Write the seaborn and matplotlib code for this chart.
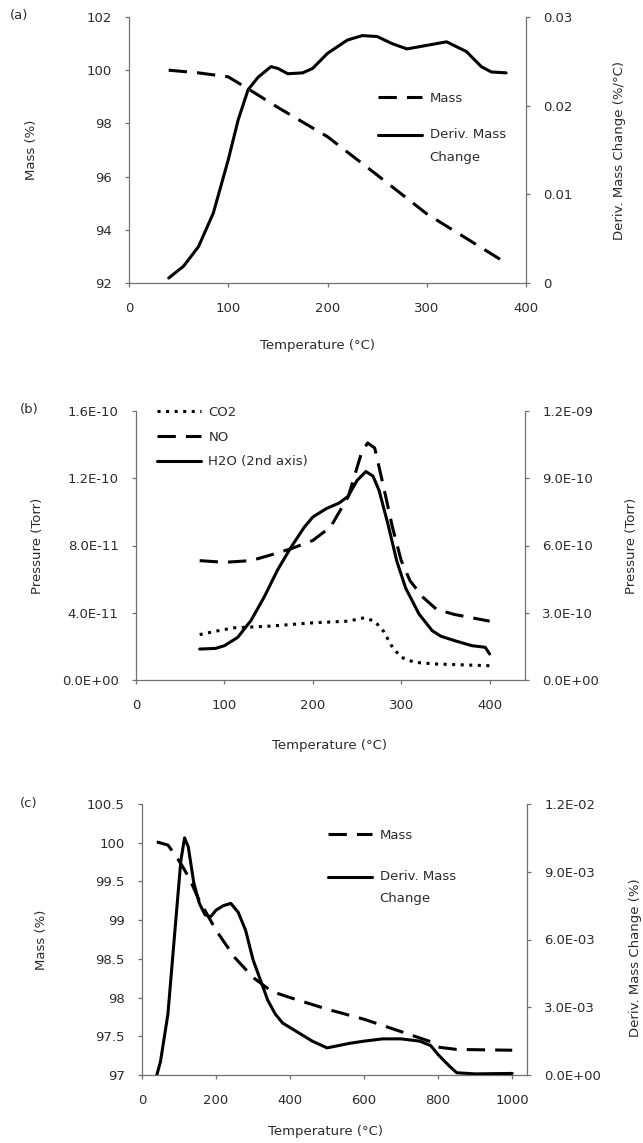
import matplotlib
matplotlib.use("Agg")
import numpy as np
import matplotlib.pyplot as plt
import seaborn as sns
from matplotlib.ticker import FuncFormatter, MultipleLocator
from matplotlib.legend_handler import HandlerLine2D

sns.set_style("ticks")
plt.rcParams["font.family"] = ["DejaVu Sans"]
FS = 9.5
plt.rcParams["font.size"] = FS

# ---- (a) TGA, low temperature range ----
a_mass_T = [40, 70, 100, 120, 150, 200, 250, 300, 380]
a_mass = [100.0, 99.9, 99.75, 99.3, 98.6, 97.5, 96.06, 94.6, 92.75]
a_deriv_T = [40, 55, 70, 85, 100, 110, 120, 130, 143, 150, 160, 175, 185, 200,
             220, 235, 250, 265, 280, 300, 320, 340, 355, 365, 380]
a_deriv = [0.00056, 0.0019, 0.0041, 0.0079, 0.0139, 0.0184, 0.0218, 0.0232,
           0.0244, 0.0242, 0.0236, 0.0237, 0.0242, 0.0259, 0.0274, 0.0279,
           0.0278, 0.0270, 0.0264, 0.0268, 0.0272, 0.0261, 0.0244, 0.0238, 0.0237]

# ---- (b) evolved gas pressures ----
b_no_T = [72, 100, 130, 150, 175, 200, 220, 240, 255, 262, 270, 280, 290, 300,
          310, 325, 340, 360, 380, 400]
b_no = [7.1e-11, 7.0e-11, 7.1e-11, 7.4e-11, 7.8e-11, 8.3e-11, 9.1e-11, 1.09e-10,
        1.35e-10, 1.41e-10, 1.38e-10, 1.15e-10, 9.1e-11, 7.1e-11, 5.9e-11,
        4.9e-11, 4.2e-11, 3.9e-11, 3.7e-11, 3.5e-11]
b_co2_T = [72, 90, 110, 150, 200, 240, 258, 270, 280, 290, 300, 315, 340, 370, 400]
b_co2 = [2.7e-11, 2.9e-11, 3.1e-11, 3.2e-11, 3.4e-11, 3.5e-11, 3.7e-11, 3.5e-11,
         2.9e-11, 1.95e-11, 1.35e-11, 1.05e-11, 9.5e-12, 9.0e-12, 8.5e-12]
b_h2o_T = [72, 90, 100, 115, 130, 145, 160, 175, 190, 200, 215, 230, 240, 250,
           260, 268, 275, 285, 295, 305, 320, 335, 345, 360, 380, 395, 400]
b_h2o = [1.38e-10, 1.41e-10, 1.53e-10, 1.9e-10, 2.65e-10, 3.7e-10, 4.9e-10,
         5.9e-10, 6.8e-10, 7.27e-10, 7.64e-10, 7.9e-10, 8.2e-10, 8.9e-10, 9.3e-10,
         9.1e-10, 8.45e-10, 6.95e-10, 5.3e-10, 4.1e-10, 2.95e-10, 2.2e-10,
         1.95e-10, 1.76e-10, 1.53e-10, 1.46e-10, 1.16e-10]

# ---- (c) TGA, full temperature range ----
c_mass_T = [40, 70, 90, 110, 130, 150, 180, 200, 250, 300, 350, 400, 500, 600,
            700, 780, 800, 850, 1000]
c_mass = [100.01, 99.97, 99.84, 99.69, 99.52, 99.30, 99.04, 98.87, 98.52, 98.26,
          98.08, 98.0, 97.85, 97.72, 97.56, 97.43, 97.36, 97.33, 97.32]
c_deriv_T = [40, 50, 70, 90, 105, 115, 125, 140, 155, 170, 185, 200, 220, 240,
             260, 280, 300, 320, 340, 360, 380, 400, 430, 460, 500, 530, 560, 600,
             650, 700, 750, 780, 800, 830, 850, 900, 1000]
c_deriv = [0.0, 0.0006, 0.0027, 0.0066, 0.0095, 0.0105, 0.0101, 0.0085, 0.0076,
           0.0071, 0.0070, 0.0073, 0.0075, 0.0076, 0.0072, 0.0064, 0.0051, 0.0042,
           0.0033, 0.0027, 0.0023, 0.0021, 0.0018, 0.0015, 0.0012, 0.0013, 0.0014,
           0.0015, 0.0016, 0.0016, 0.0015, 0.0013, 0.0009, 0.0004, 0.0001,
           0.00005, 0.00007]

W, H = 643, 1143
LW = 2.2
DASH = (0, (6, 3.3))
DOT = (0, (1, 1.8))
TXT = "#2b2b2b"
SPINE = "#707070"
PX = 72 / 100  # points per pixel at 100 dpi

fig = plt.figure(figsize=(W / 100, H / 100), dpi=100)


class FirstLineHandler(HandlerLine2D):
    """Legend line aligned with the first line of a two-line label."""

    def __init__(self, shift, **kw):
        super().__init__(**kw)
        self.shift = shift

    def create_artists(self, legend, orig_handle, xdescent, ydescent, width,
                       height, fontsize, trans):
        arts = super().create_artists(legend, orig_handle, xdescent, ydescent,
                                      width, height, fontsize, trans)
        for a in arts:
            a.set_ydata(np.asarray(a.get_ydata(), dtype=float) + self.shift)
        return arts


def make_axes(box):
    left, top, right, bottom = box
    ax = fig.add_axes([left / W, 1 - bottom / H, (right - left) / W, (bottom - top) / H])
    ax2 = ax.twinx()
    ax.patch.set_alpha(0)
    return ax, ax2


def frac(box, px, py):
    left, top, right, bottom = box
    return (px - left) / (right - left), (bottom - py) / (bottom - top)


def style_axes(ax, ax2):
    for a in (ax, ax2):
        a.spines["top"].set_visible(False)
        for s in a.spines.values():
            s.set_color(SPINE)
            s.set_linewidth(0.9)
        a.tick_params(direction="out", length=3, width=0.9, color=SPINE,
                      labelcolor=TXT, labelsize=FS)
    ax.tick_params(axis="x", pad=10.5)
    ax.tick_params(axis="y", pad=9.5)
    ax2.tick_params(axis="y", pad=9.5)
    ax.spines["right"].set_visible(False)
    ax2.spines["left"].set_visible(False)
    ax2.spines["bottom"].set_visible(False)


def place_labels(ax, ax2, box, xl, yl, yr):
    ax.xaxis.set_label_coords(*frac(box, xl[0], xl[1] - 7.5))
    ax.yaxis.set_label_coords(*frac(box, yl[0] + 7.5, yl[1]))
    ax2.yaxis.set_label_coords(*frac(box, yr[0] - 7.5, yr[1]))


def sci(v, _):
    return f"{v:.1E}"


def build_legend(ax, ax2, box, anchor_px, spacing, two_line=None):
    h1, l1 = ax.get_legend_handles_labels()
    h2, l2 = ax2.get_legend_handles_labels()
    if ax.get_legend() is not None:
        ax.get_legend().remove()
    hmap = {}
    if two_line is not None:
        for h, l in zip(h1 + h2, l1 + l2):
            if "\n" in l:
                hmap[h] = FirstLineHandler(two_line)
    fs_px = FS / PX
    leg = ax2.legend(h1 + h2, l1 + l2, loc="upper left",
                     bbox_to_anchor=frac(box, *anchor_px), frameon=False,
                     borderpad=0, borderaxespad=0,
                     handlelength=44 / fs_px, handletextpad=7.5 / fs_px,
                     labelspacing=spacing, fontsize=FS, labelcolor=TXT,
                     handler_map=hmap)
    for t in leg.get_texts():
        t.set_linespacing(1.95)
    return leg


# ----- panel (a) -----
box_a = (129, 17, 526, 283)
ax, ax2 = make_axes(box_a)
sns.lineplot(x=a_mass_T, y=a_mass, ax=ax, color="black", lw=LW, linestyle=DASH, label="Mass")
sns.lineplot(x=a_deriv_T, y=a_deriv, ax=ax2, color="black", lw=LW, label="Deriv. Mass\nChange")
ax.set_xlim(0, 400)
ax.set_ylim(92, 102)
ax2.set_ylim(0, 0.03)
ax.xaxis.set_major_locator(MultipleLocator(100))
ax.yaxis.set_major_locator(MultipleLocator(2))
ax2.yaxis.set_major_locator(MultipleLocator(0.01))
ax2.yaxis.set_major_formatter(FuncFormatter(lambda v, _: "0" if abs(v) < 1e-12 else f"{v:g}"))
style_axes(ax, ax2)
ax.set_xlabel("Temperature (°C)", color=TXT)
ax.set_ylabel("Mass (%)", color=TXT)
ax2.set_ylabel("Deriv. Mass Change (%/°C)", color=TXT)
place_labels(ax, ax2, box_a, (317, 346), (31, 150), (620, 150))
build_legend(ax, ax2, box_a, (378, 92), 1.75, two_line=11 * PX)
fig.text(19 / W, 1 - 15 / H, "(a)", fontsize=FS, color=TXT, ha="center", va="center")

# ----- panel (b) -----
box_b = (136, 411, 525, 680)
ax, ax2 = make_axes(box_b)
sns.lineplot(x=b_co2_T, y=b_co2, ax=ax, color="black", lw=LW, linestyle=DOT, label="CO2")
sns.lineplot(x=b_no_T, y=b_no, ax=ax, color="black", lw=LW, linestyle=DASH, label="NO")
sns.lineplot(x=b_h2o_T, y=b_h2o, ax=ax2, color="black", lw=LW, label="H2O (2nd axis)")
ax.set_xlim(0, 440)
ax.set_ylim(0, 1.6e-10)
ax2.set_ylim(0, 1.2e-9)
ax.xaxis.set_major_locator(MultipleLocator(100))
ax.yaxis.set_major_locator(MultipleLocator(4e-11))
ax2.yaxis.set_major_locator(MultipleLocator(3e-10))
ax.yaxis.set_major_formatter(FuncFormatter(sci))
ax2.yaxis.set_major_formatter(FuncFormatter(sci))
style_axes(ax, ax2)
ax.set_xlabel("Temperature (°C)", color=TXT)
ax.set_ylabel("Pressure (Torr)", color=TXT)
ax2.set_ylabel("Pressure (Torr)", color=TXT)
place_labels(ax, ax2, box_b, (329, 747), (36.5, 546), (632, 546))
build_legend(ax, ax2, box_b, (157, 406), 0.88)
fig.text(29 / W, 1 - 410 / H, "(b)", fontsize=FS, color=TXT, ha="center", va="center")

# ----- panel (c) -----
box_c = (142, 804, 527, 1075)
ax, ax2 = make_axes(box_c)
sns.lineplot(x=c_mass_T, y=c_mass, ax=ax, color="black", lw=LW, linestyle=DASH, label="Mass")
sns.lineplot(x=c_deriv_T, y=c_deriv, ax=ax2, color="black", lw=LW, label="Deriv. Mass\nChange")
ax.set_xlim(0, 1040)
ax.set_ylim(97, 100.5)
ax2.set_ylim(0, 0.012)
ax.xaxis.set_major_locator(MultipleLocator(200))
ax.yaxis.set_major_locator(MultipleLocator(0.5))
ax.yaxis.set_major_formatter(FuncFormatter(lambda v, _: f"{v:g}"))
ax2.yaxis.set_major_locator(MultipleLocator(0.003))
ax2.yaxis.set_major_formatter(FuncFormatter(sci))
style_axes(ax, ax2)
ax.set_xlabel("Temperature (°C)", color=TXT)
ax.set_ylabel("Mass (%)", color=TXT)
ax2.set_ylabel("Deriv. Mass Change (%)", color=TXT)
place_labels(ax, ax2, box_c, (325, 1133), (41, 940), (636, 958))
build_legend(ax, ax2, box_c, (328, 829), 2.1, two_line=11 * PX)
fig.text(29 / W, 1 - 803 / H, "(c)", fontsize=FS, color=TXT, ha="center", va="center")

fig.savefig("out.png", dpi=100)
